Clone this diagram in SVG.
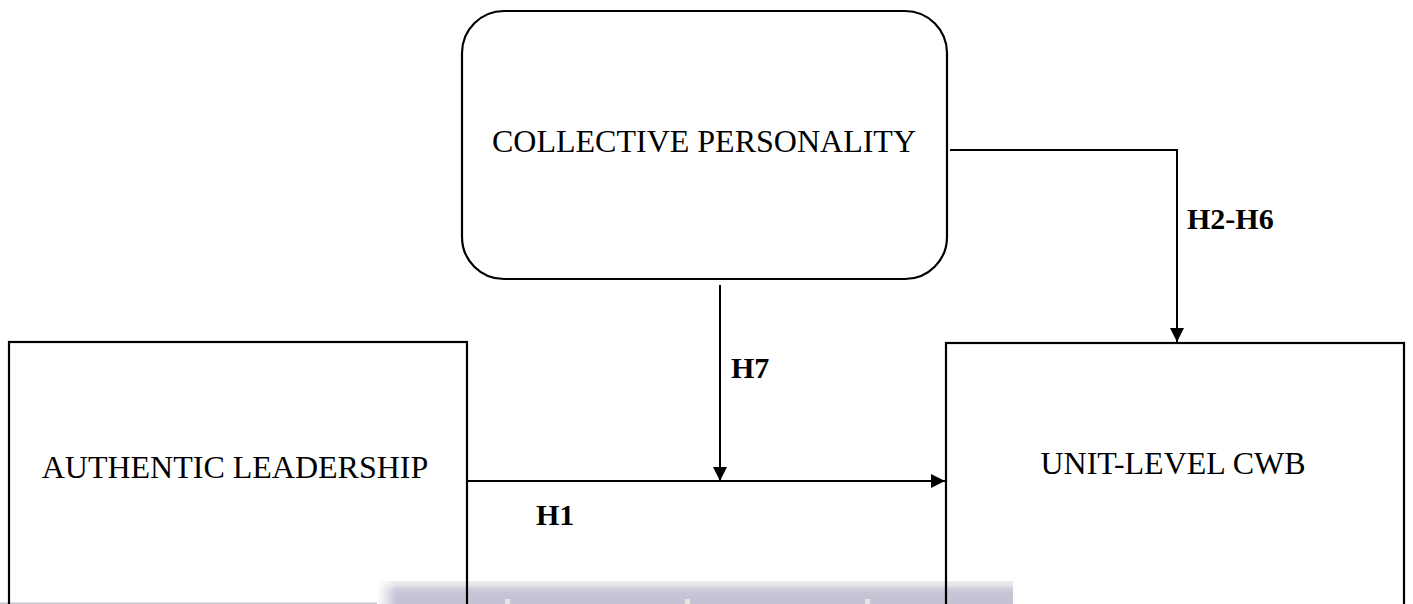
<svg xmlns="http://www.w3.org/2000/svg" width="1413" height="604" viewBox="0 0 1413 604">
  <style>
    .box { fill: none; stroke: #000; stroke-width: 2.2; }
    .lbl { font-family: "Liberation Serif", "Times New Roman", serif; font-size: 32px; fill: #000; }
    .hyp { font-family: "Liberation Serif", "Times New Roman", serif; font-size: 30px; font-weight: bold; fill: #000; }
    .conn { fill: none; stroke: #000; stroke-width: 2; }
  </style>
  <defs>
    <marker id="arrow" viewBox="0 0 14 14" refX="14" refY="7" markerWidth="14" markerHeight="14" markerUnits="userSpaceOnUse" orient="auto">
      <path d="M0,0 L14,7 L0,14 Z" fill="#000"/>
    </marker>
    <linearGradient id="bandV" x1="0" y1="0" x2="0" y2="1">
      <stop offset="0" stop-color="#ececf1"/>
      <stop offset="0.18" stop-color="#e4e4ea"/>
      <stop offset="0.3" stop-color="#d2d2de"/>
      <stop offset="0.5" stop-color="#c6c6d7"/>
      <stop offset="1" stop-color="#c2c2d4"/>
    </linearGradient>
    <linearGradient id="fadeL" x1="0" y1="0" x2="1" y2="0">
      <stop offset="0" stop-color="#ffffff" stop-opacity="1"/>
      <stop offset="1" stop-color="#ffffff" stop-opacity="0"/>
    </linearGradient>
  </defs>
  <rect x="0" y="0" width="1413" height="604" fill="#fff"/>
  <g id="band">
    <rect x="377" y="581" width="636" height="23" fill="url(#bandV)"/>
    <rect x="377" y="581" width="20" height="23" fill="url(#fadeL)"/>
    <rect x="0" y="602.5" width="377" height="1.5" fill="#c8c8cc"/>
    <rect x="505" y="599" width="5" height="5" fill="#e6e6de"/>
    <rect x="685" y="599" width="5" height="5" fill="#e6e6de"/>
    <rect x="865" y="599" width="5" height="5" fill="#e6e6de"/>
  </g>
  <g id="node-collective">
    <rect class="box" x="462" y="11" width="485" height="268" rx="42" ry="42"/>
    <text class="lbl" x="704" y="152" text-anchor="middle">COLLECTIVE PERSONALITY</text>
  </g>
  <g id="node-authentic">
    <rect class="box" x="9" y="342" width="458" height="280"/>
    <text class="lbl" x="235" y="478" text-anchor="middle">AUTHENTIC LEADERSHIP</text>
  </g>
  <g id="node-cwb">
    <rect class="box" x="946" y="343" width="458" height="280"/>
    <text class="lbl" x="1173" y="474" text-anchor="middle">UNIT-LEVEL CWB</text>
  </g>
  <g id="connectors">
    <path class="conn" d="M950,150 L1177,150 L1177,342" marker-end="url(#arrow)"/>
    <path class="conn" d="M720,285 L720,481" marker-end="url(#arrow)"/>
    <path class="conn" d="M467,481 L945,481" marker-end="url(#arrow)"/>
    <text class="hyp" x="1187" y="229">H2-H6</text>
    <text class="hyp" x="731" y="378">H7</text>
    <text class="hyp" x="536" y="525">H1</text>
  </g>
</svg>
